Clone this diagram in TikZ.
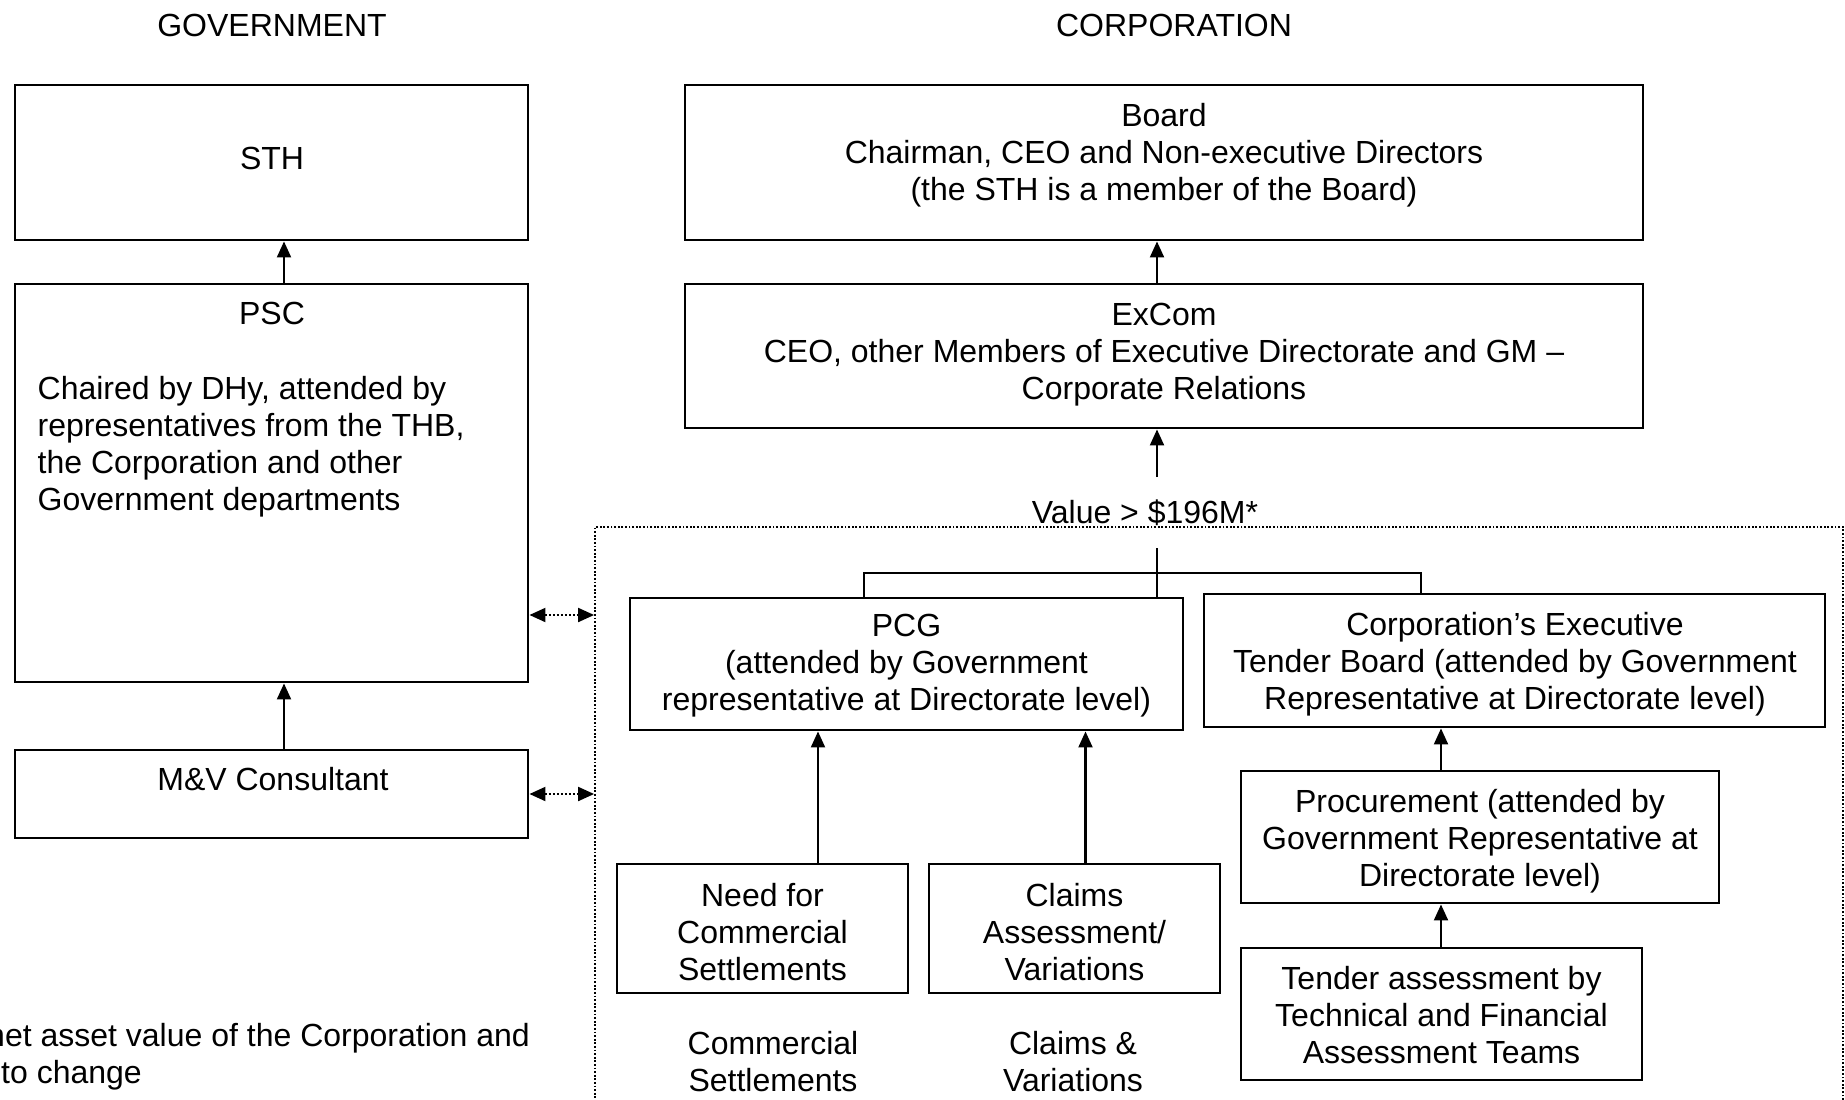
\documentclass[tikz,border=0pt]{standalone}
\usepackage{fontspec}
\setmainfont{Liberation Sans}
\usetikzlibrary{arrows.meta}
\tikzset{
  boxstyle/.style={draw=black, line width=2.9pt, inner sep=0pt, rectangle},
  txt/.style={inner sep=0pt, align=center, font=\fontsize{32}{37}\selectfont,
    execute at begin node=\strut, execute at end node=\strut},
  conn/.style={line width=2.1pt},
  arr/.style={line width=2.1pt, -{Triangle[length=16pt,width=14pt]}},
  dotarr/.style={line width=2pt, dash pattern=on 2pt off 2pt,
    {Triangle[length=16pt,width=14pt]}-{Triangle[length=16pt,width=14pt]}},
  zone/.style={draw=black, line width=1.8pt, dash pattern=on 1.8pt off 1.8pt, inner sep=0pt}
}
\begin{document}
\begin{tikzpicture}[x=1pt,y=-1pt]
\useasboundingbox (0,0) rectangle (1845,1100);
\fill[white] (0,0) rectangle (1845,1100);

% headers
\node[txt] (gov) at (272,29) {GOVERNMENT};
\node[txt] (corp) at (1174,29) {CORPORATION};

% corporation zone (dotted)
\node[zone, minimum width=1248pt, minimum height=603pt] (zone) at (1219,828.5) {};

% government boxes
\node[boxstyle, minimum width=513pt, minimum height=155pt] (sth) at (271.5,162.5) {};
\node[boxstyle, minimum width=513pt, minimum height=398pt] (psc) at (271.5,483) {};
\node[boxstyle, minimum width=513pt, minimum height=88pt] (mv) at (271.5,794) {};

\node[txt] (tsth) at (272,162) {STH};
\node[txt] (tpsc) at (272,317) {PSC};
\node[txt, align=left, anchor=west] (pscbody) at (37.5,448.5)
  {Chaired by DHy, attended by\\representatives from the THB,\\the Corporation and other\\Government departments};
\node[txt] (tmv) at (273,783) {M\&V Consultant};

% corporation boxes
\node[boxstyle, minimum width=958pt, minimum height=155pt] (board) at (1164,162.5) {};
\node[boxstyle, minimum width=958pt, minimum height=144pt] (excom) at (1164,356) {};
\node[boxstyle, minimum width=553pt, minimum height=132pt] (pcg) at (906.5,664) {};
\node[boxstyle, minimum width=621pt, minimum height=133pt] (etb) at (1514.5,660.5) {};
\node[boxstyle, minimum width=478pt, minimum height=132pt] (proc) at (1480,837) {};
\node[boxstyle, minimum width=401pt, minimum height=132pt] (tender) at (1441.5,1014) {};
\node[boxstyle, minimum width=291pt, minimum height=129pt] (need) at (762.5,928.5) {};
\node[boxstyle, minimum width=291pt, minimum height=129pt] (claims) at (1074.5,928.5) {};

\node[txt] (tboard) at (1164,157.5) {Board\\Chairman, CEO and Non-executive Directors\\(the STH is a member of the Board)};
\node[txt] (texcom) at (1164,356.5) {ExCom\\CEO, other Members of Executive Directorate and GM –\\Corporate Relations};
\node[txt] (value) at (1145,516) {Value > \$196M*};
\node[txt] (tpcg) at (906.5,668) {PCG\\(attended by Government\\representative at Directorate level)};
\node[txt] (tetb) at (1515,666.5) {Corporation’s Executive\\Tender Board (attended by Government\\Representative at Directorate level)};
\node[txt] (tproc) at (1480,843.5) {Procurement (attended by\\Government Representative at\\Directorate level)};
\node[txt] (ttender) at (1441.5,1020.5) {Tender assessment by\\Technical and Financial\\Assessment Teams};
\node[txt] (tneed) at (762.5,937.5) {Need for\\Commercial\\Settlements};
\node[txt] (tclaims) at (1074.5,937.5) {Claims\\Assessment/\\Variations};
\node[txt] (lcomm) at (773,1066.5) {Commercial\\Settlements};
\node[txt] (lclaims) at (1073,1066.5) {Claims \&\\Variations};

% footnote (clipped at the left edge, as in the reference)
\node[txt, anchor=east] (fn1) at (530,1039) {net asset value of the Corporation and};
\node[txt, anchor=west] (fn2) at (1,1076) {to change};

% connectors
\coordinate (xa) at (284,0);
\draw[arr] (xa |- psc.north) -- (xa |- sth.south);
\draw[arr] (xa |- mv.north) -- (xa |- psc.south);
\coordinate (xb) at (1157,0);
\draw[arr] (xb |- excom.north) -- (xb |- board.south);
\coordinate (vtop) at (1157,477);
\coordinate (vbot) at (1157,548);
\draw[arr] (vtop) -- (vtop |- excom.south);
\draw[conn] (vbot) -- (vbot |- pcg.north);
\coordinate (jl) at (864,573);
\coordinate (jr) at (1421,573);
\draw[conn] (jl |- pcg.north) -- (jl) -- (jr) -- (jr |- etb.north);
\coordinate (xc) at (818,0);
\draw[arr] (xc |- need.north) -- (xc |- pcg.south);
\coordinate (xd) at (1085.5,0);
\draw[arr] (xd |- claims.north) -- (xd |- pcg.south);
\coordinate (xe) at (1441,0);
\draw[arr] (xe |- proc.north) -- (xe |- etb.south);
\draw[arr] (xe |- tender.north) -- (xe |- proc.south);
\coordinate (ya) at (0,615);
\draw[dotarr] (psc.east |- ya) -- (zone.west |- ya);
\draw[dotarr] (mv.east) -- (zone.west |- mv.east);
\end{tikzpicture}
\end{document}
